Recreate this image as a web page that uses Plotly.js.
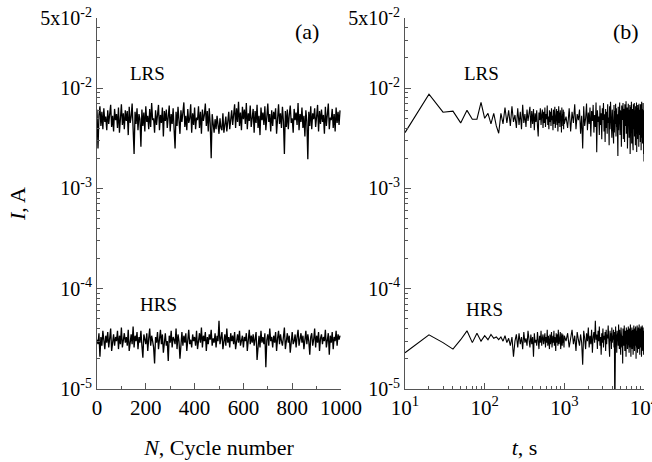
<!DOCTYPE html>
<html>
<head>
<meta charset="utf-8">
<script src="https://cdn.plot.ly/plotly-3.0.1.min.js"></script>
<style>html,body{margin:0;padding:0;background:#fff;}#chart{width:652px;height:462px;}</style>
</head>
<body>
<div id="chart"></div>
<script>
// ---------- DATA ----------
// Panel (a): current vs cycle number, sampled every 4 cycles
const cycleStep = 4;
// LRS current in mA
const lrsCycle_mA = [
6.1,2.5,5.4,6.6,4.2,5.8,3.9,6.3,4.6,5.2,
3.8,6.0,4.4,5.7,6.8,4.1,5.3,3.7,6.2,4.8,
5.5,4.0,6.4,3.6,5.1,6.9,4.3,5.6,3.9,6.0,
4.7,5.9,3.4,6.5,4.5,5.2,7.0,4.0,2.2,5.8,
4.4,6.3,3.8,5.5,4.9,2.6,6.1,4.2,5.7,3.7,
6.6,4.6,5.3,3.9,6.2,4.1,7.1,4.8,5.0,3.6,
6.0,4.3,5.6,6.8,3.8,5.4,4.5,6.4,3.3,5.9,
4.7,6.1,4.0,5.2,6.7,3.7,5.5,4.4,6.3,3.9,
2.5,5.8,4.2,6.5,4.9,3.5,6.0,4.6,5.7,7.2,
4.1,5.3,3.8,6.2,4.5,5.0,6.9,3.6,5.6,4.3,
6.4,3.9,5.1,4.8,6.6,4.0,5.8,3.5,6.1,4.7,
5.4,7.0,4.2,5.9,3.7,6.3,4.4,2.0,5.5,4.1,
3.6,4.9,3.9,5.3,4.2,3.5,5.0,4.0,3.8,5.6,
3.6,4.6,5.2,3.7,4.4,5.8,3.9,4.8,6.0,4.3,
5.5,6.9,4.0,6.3,4.6,7.3,4.2,5.7,3.8,6.5,
4.9,6.1,4.4,7.1,3.9,5.6,4.7,6.7,4.1,5.4,
6.2,3.6,5.9,4.5,6.8,4.0,5.3,3.4,6.4,4.8,
5.7,4.3,6.6,3.8,5.1,7.0,4.6,5.5,3.7,6.0,
4.2,5.8,4.9,6.3,3.5,5.2,6.9,4.4,5.6,4.0,
6.5,4.7,2.2,5.9,4.1,6.1,3.9,5.4,6.7,4.5,
5.0,3.6,6.2,4.8,5.7,4.3,7.1,3.8,5.5,4.6,
6.4,4.0,5.3,3.3,6.0,4.7,1.95,5.8,4.2,6.6,
3.9,5.6,4.9,6.3,4.1,5.2,6.8,3.7,5.9,4.4,
6.1,4.6,5.4,3.5,6.5,4.2,5.7,7.0,3.9,5.1,
4.8,6.2,4.0,5.5,3.7,6.4,4.5,5.8,4.3,6.0
];
// HRS current in uA
const hrsCycle_uA = [
31,28,36,21,33,27,38,30,25,34,
29,37,26,32,40,24,31,35,27,33,
30,38,25,34,28,41,26,32,36,29,
33,27,39,24,31,35,28,42,26,34,
30,37,25,33,29,38,27,20.5,35,31,
28,36,24,32,40,27,34,30,26,18,
33,29,37,25,31,39,28,35,23,32,
36,27,30,19,34,29,38,26,33,31,
28,40,25,35,30,20,32,37,27,34,
29,36,24,33,39,28,31,26,35,30,
33,27,38,25,32,36,29,41,26,34,
30,37,24,33,28,35,31,39,27,32,
29,36,26,34,30,48,28,33,37,25,
31,35,27,40,29,33,26,36,30,34,
28,37,25,32,35,29,38,27,31,34,
26,33,30,36,24,31,39,28,34,29,
35,27,32,37,19.5,30,34,26,38,29,
33,28,36,16.5,31,35,27,40,30,33,
26,34,29,37,24,32,38,28,35,30,
27,33,41,25,31,36,29,34,23,32,
37,28,30,35,26,33,39,27,31,36,
29,34,25,32,38,28,35,30,22,33,
36,27,31,40,26,34,29,37,24,32,
35,28,33,30,39,26,31,36,22,34,
29,37,25,33,30,38,27,35,31,34
];

// Panel (b): current vs time. Segment 1: t = 10..1000 s every 10 s; segment 2: t = 1050..10000 s every 50 s
const seg1Start = 10, seg1Step = 10;
const seg2Start = 1050, seg2Step = 50;
const lrsTimeSeg1_mA = [
3.6,8.7,5.75,5.9,4.5,6.0,4.9,4.9,7.2,5.0,5.6,4.4,5.6,4.2,3.55,
5.6,4.4,6.4,4.5,6.0,4.2,6.6,4.6,5.4,4.0,
6.3,4.3,5.8,3.9,6.8,4.5,5.5,4.1,6.1,4.7,
5.3,6.5,4.0,5.9,4.4,6.2,3.8,5.6,4.6,6.0,
4.2,3.3,5.7,4.8,6.3,4.3,5.4,6.1,4.0,5.8,
4.5,6.4,4.1,5.5,4.9,6.7,4.3,5.2,3.9,6.0,
4.6,5.8,4.2,6.3,4.8,5.3,3.8,6.1,4.4,5.6,
6.5,4.0,5.4,4.7,6.2,4.3,5.9,3.7,5.1,6.6,
4.5,5.7,4.1,6.0,4.9,5.3,3.6,6.4,4.2,5.5,
4.7,6.1,3.9,5.8,4.4
];
const lrsTimeSeg2_mA = [
5.2,4.0,6.3,3.7,5.8,4.5,6.9,3.9,5.5,4.8,
6.1,3.5,5.3,2.5,6.6,4.2,5.0,7.0,3.8,5.7,
4.4,6.4,3.3,5.9,4.7,6.8,3.6,5.4,4.1,7.2,
2.3,6.0,4.6,5.2,3.4,6.7,4.3,5.6,3.1,6.3,
4.8,7.1,3.7,5.5,2.9,6.2,4.0,5.8,3.5,6.9,
4.5,5.1,2.7,6.6,3.9,7.3,4.2,5.7,3.2,6.1,
4.7,5.4,2.8,6.8,3.6,5.9,4.4,7.0,3.3,6.3,
4.1,5.5,3.0,2.1,6.5,3.8,5.2,4.6,7.2,3.4,
6.0,4.3,5.7,2.6,6.7,3.9,5.3,4.8,7.1,3.1,
6.2,4.5,5.6,2.9,6.9,3.7,5.0,4.2,7.4,3.5,
5.8,4.0,6.4,2.5,5.4,3.8,7.0,4.6,6.1,3.2,
5.5,4.3,6.8,2.2,5.9,3.6,6.5,4.1,7.3,2.8,
5.7,4.7,6.2,3.0,5.1,2.4,6.9,4.4,5.6,3.9,
7.1,3.3,6.0,4.5,5.3,2.7,6.6,4.0,5.8,3.5,
7.2,2.3,6.3,4.2,5.5,3.1,6.8,4.8,5.0,3.7,
6.4,2.6,7.0,4.1,5.7,3.4,6.1,4.6,5.2,2.9,
6.9,3.8,5.9,2.4,6.5,4.3,7.3,3.2,5.6,4.0,
6.2,2.8,5.4,4.7,7.1,3.6,6.0,2.2,5.8,1.85
];
const hrsTimeSeg1_uA = [
23,34.7,29,25,31,38,29,36,30,34,31,35,32,33,31,
33,30,34,29,32,27,33,21,30,35,
26,36,28,33,25,37,29,32,27,38,
30,26,35,28,33,21,36,29,31,27,
37,30,25,34,29,38,27,32,35,28,
31,36,26,33,29,39,27,34,30,25,
35,28,32,37,26,31,34,29,38,27,
33,30,24,36,29,32,35,27,39,31,
28,34,30,37,25,33,29,36,27,32,
35,29,31,26,34
];
const hrsTimeSeg2_uA = [
30,36,26,33,39,28,34,24,37,31,
27,35,29,17.5,38,32,25,36,30,41,
26,34,28,39,23,33,37,29,48,31,
35,25,38,30,42,27,33,22,36,29,
40,26,34,31,37,24,39,28,35,32,
43,27,33,21,38,30,36,25,41,29,
34,31,39,26,37,5,33,42,28,35,
23,38,30,36,27,44,32,25,39,29,
35,22,41,31,37,26,34,18,40,30,
36,27,43,32,24,38,29,35,21,41,
33,28,39,25,37,31,42,27,34,23,
40,30,36,26,44,32,21,38,29,35,
41,25,34,30,39,22,37,28,43,31,
35,24,40,29,36,27,42,33,20,38,
30,37,26,43,32,23,39,28,35,41,
25,36,31,44,27,34,22,40,29,38,
33,26,42,30,37,21,39,28,35,43,
27,36,31,24,41,29,38,22,34,37
];

// Tick labels
const yTickVals = [1e-5, 1e-4, 1e-3, 1e-2, 5e-2];
const yTickText = ['10<sup>-5</sup>','10<sup>-4</sup>','10<sup>-3</sup>','10<sup>-2</sup>','5x10<sup>-2</sup>'];
const xaTickVals = [0, 200, 400, 600, 800, 1000];
const xaTickText = ['0','200','400','600','800','1000'];
const xbTickVals = [10, 100, 1000, 10000];
const xbTickText = ['10<sup>1</sup>','10<sup>2</sup>','10<sup>3</sup>','10<sup>4</sup>'];

// ---------- BUILD ----------
const mA = v => v * 1e-3, uA = v => v * 1e-6;
const cycles = arr => arr.map((_, i) => i * cycleStep);
const times = (arr, start, step) => arr.map((_, i) => start + i * step);

const tB_lrs = times(lrsTimeSeg1_mA, seg1Start, seg1Step).concat(times(lrsTimeSeg2_mA, seg2Start, seg2Step));
const yB_lrs = lrsTimeSeg1_mA.concat(lrsTimeSeg2_mA).map(mA);
const tB_hrs = times(hrsTimeSeg1_uA, seg1Start, seg1Step).concat(times(hrsTimeSeg2_uA, seg2Start, seg2Step));
const yB_hrs = hrsTimeSeg1_uA.concat(hrsTimeSeg2_uA).map(uA);

const lineStyle = {color: '#000', width: 1.3};
const traces = [
  {x: cycles(lrsCycle_mA), y: lrsCycle_mA.map(mA), mode: 'lines', line: lineStyle, xaxis: 'x', yaxis: 'y', hoverinfo: 'skip'},
  {x: cycles(hrsCycle_uA), y: hrsCycle_uA.map(uA), mode: 'lines', line: lineStyle, xaxis: 'x', yaxis: 'y', hoverinfo: 'skip'},
  {x: tB_lrs, y: yB_lrs, mode: 'lines', line: {color: '#000', width: 1.1}, xaxis: 'x2', yaxis: 'y2', hoverinfo: 'skip'},
  {x: tB_hrs, y: yB_hrs, mode: 'lines', line: {color: '#000', width: 1.1}, xaxis: 'x2', yaxis: 'y2', hoverinfo: 'skip'}
];

const minorLog = (eFrom, eTo, maxV) => {
  const out = [];
  for (let e = eFrom; e <= eTo; e++) for (let d = 2; d <= 9; d++) { const v = d * Math.pow(10, e); if (v < maxV) out.push(v); }
  return out;
};

const axisColor = '#555';
const FF = '"Liberation Serif", "Times New Roman", serif';
const font = {family: FF, color: '#000', size: 19};
const baseAxis = {
  showgrid: false, zeroline: false, showline: true, linecolor: axisColor, linewidth: 1,
  ticks: 'inside', ticklen: 6, tickwidth: 1, tickcolor: axisColor, mirror: false,
  tickfont: {family: FF, size: 21, color: '#000'}, tickmode: 'array', ticklabeloverflow: 'allow'
};
const yBase = Object.assign({}, baseAxis, {
  type: 'log', range: [-5, Math.log10(0.05)], tickvals: yTickVals, ticktext: yTickText,
  tickfont: {family: FF, size: 20, color: '#000'},
  minor: {tickmode: 'array', tickvals: minorLog(-5, -2, 0.05), ticks: 'inside', ticklen: 3, tickcolor: axisColor, showgrid: false}
});

const domA = [0, 244/547], domB = [308/547, 1];
const titleFont = {family: FF, size: 22, color: '#000'};
const layout = {
  width: 652, height: 462,
  margin: {l: 97, r: 8, t: 18, b: 73},
  paper_bgcolor: '#fff', plot_bgcolor: '#fff',
  showlegend: false, font: font,
  xaxis: Object.assign({}, baseAxis, {
    domain: domA, range: [0, 1000], tickvals: xaTickVals, ticktext: xaTickText, anchor: 'y',
    minor: {tickmode: 'array', tickvals: [100, 300, 500, 700, 900], ticks: 'inside', ticklen: 3, tickcolor: axisColor},
    title: {text: '<i>N</i>, Cycle number', font: titleFont, standoff: 20}
  }),
  yaxis: Object.assign({}, yBase, {anchor: 'x',
    title: {text: '<i>I</i>, A', font: titleFont, standoff: 8}
  }),
  xaxis2: Object.assign({}, baseAxis, {
    domain: domB, type: 'log', range: [1, 4], tickvals: xbTickVals, ticktext: xbTickText, anchor: 'y2',
    minor: {tickmode: 'array', tickvals: minorLog(1, 3, 1e4), ticks: 'inside', ticklen: 3, tickcolor: axisColor},
    title: {text: '<i>t</i>, s', font: titleFont, standoff: 20}
  }),
  yaxis2: Object.assign({}, yBase, {anchor: 'x2'}),
  annotations: [
    {xref: 'x', yref: 'y', x: 205, y: -1.85, text: 'LRS', showarrow: false, font: {size: 19}},
    {xref: 'x', yref: 'y', x: 254, y: -4.16, text: 'HRS', showarrow: false, font: {size: 19}},
    {xref: 'x', yref: 'y', x: 861, y: -1.44, text: '(a)', showarrow: false, font: {size: 22}},
    {xref: 'x2', yref: 'y2', x: 1.966, y: -1.85, text: 'LRS', showarrow: false, font: {size: 19}},
    {xref: 'x2', yref: 'y2', x: 2.004, y: -4.21, text: 'HRS', showarrow: false, font: {size: 19}},
    {xref: 'x2', yref: 'y2', x: 3.77, y: -1.44, text: '(b)', showarrow: false, font: {size: 22}}
  ]
};

Plotly.newPlot('chart', traces, layout, {staticPlot: true, displayModeBar: false});
</script>
</body>
</html>
